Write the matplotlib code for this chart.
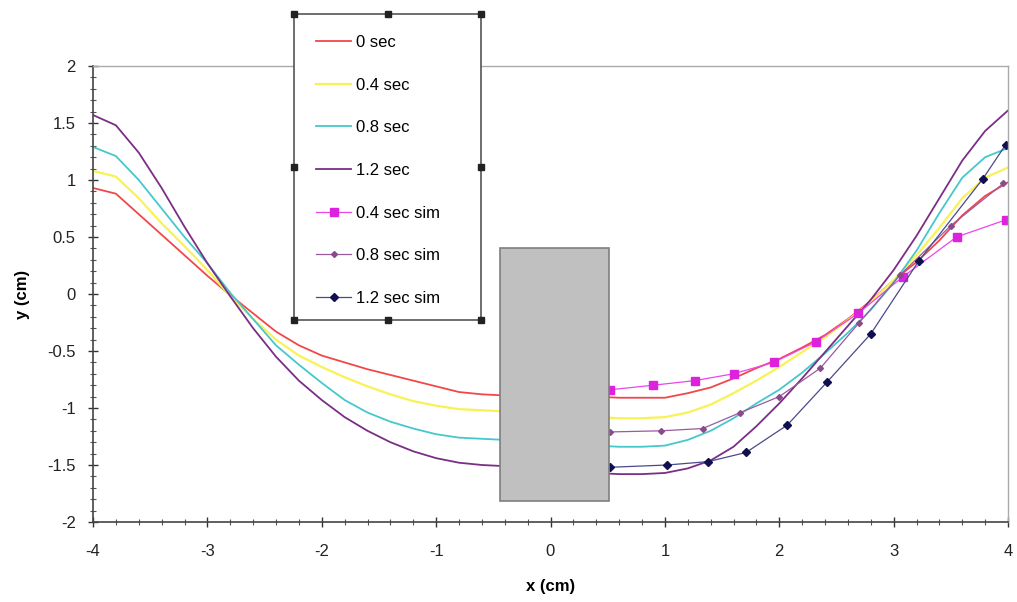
import matplotlib
matplotlib.use("Agg")
import matplotlib.pyplot as plt
from matplotlib.patches import Rectangle
from matplotlib.lines import Line2D
from matplotlib.ticker import MultipleLocator

plt.rcParams['font.family'] = ['Liberation Sans', 'DejaVu Sans']

# measured curves (x in cm)
x_meas = [-4.0, -3.8, -3.6, -3.4, -3.2, -3.0, -2.8, -2.6, -2.4, -2.2, -2.0,
          -1.8, -1.6, -1.4, -1.2, -1.0, -0.8, -0.6, -0.4, -0.2, 0.0,
          0.2, 0.4, 0.6, 0.8, 1.0, 1.2, 1.4, 1.6, 1.8, 2.0,
          2.2, 2.4, 2.6, 2.8, 3.0, 3.2, 3.4, 3.6, 3.8, 4.0]
y_0sec = [0.93, 0.88, 0.7, 0.52, 0.34, 0.16, -0.01, -0.17, -0.33, -0.45, -0.54,
          -0.6, -0.66, -0.71, -0.76, -0.81, -0.86, -0.88, -0.89, -0.89, -0.89,
          -0.9, -0.9, -0.91, -0.91, -0.91, -0.87, -0.82, -0.74, -0.65, -0.57,
          -0.47, -0.36, -0.22, -0.06, 0.12, 0.28, 0.47, 0.69, 0.86, 0.98]
y_04sec = [1.08, 1.03, 0.84, 0.62, 0.42, 0.21, -0.02, -0.22, -0.4, -0.54, -0.64,
           -0.73, -0.81, -0.88, -0.94, -0.98, -1.01, -1.02, -1.03, -1.04, -1.05,
           -1.06, -1.08, -1.09, -1.09, -1.08, -1.04, -0.97, -0.87, -0.76, -0.64,
           -0.51, -0.38, -0.23, -0.07, 0.12, 0.34, 0.58, 0.84, 1.02, 1.11]
y_08sec = [1.29, 1.21, 1.0, 0.75, 0.5, 0.27, 0.01, -0.22, -0.45, -0.62, -0.78,
           -0.93, -1.04, -1.12, -1.18, -1.23, -1.26, -1.27, -1.28, -1.29, -1.3,
           -1.31, -1.33, -1.34, -1.34, -1.33, -1.28, -1.2, -1.09, -0.96, -0.84,
           -0.69, -0.52, -0.34, -0.14, 0.1, 0.38, 0.71, 1.02, 1.2, 1.28]
y_12sec = [1.57, 1.48, 1.24, 0.93, 0.59, 0.27, -0.02, -0.3, -0.55, -0.76, -0.93,
           -1.08, -1.2, -1.3, -1.38, -1.44, -1.48, -1.5, -1.51, -1.53, -1.55,
           -1.56, -1.57, -1.58, -1.58, -1.57, -1.53, -1.46, -1.34, -1.16, -0.96,
           -0.74, -0.51, -0.28, -0.05, 0.21, 0.51, 0.84, 1.17, 1.43, 1.61]

# simulations
sim04_x = [0.52, 0.9, 1.26, 1.6, 1.95, 2.32, 2.69, 3.08, 3.55, 3.98]
sim04_y = [-0.84, -0.8, -0.76, -0.7, -0.6, -0.42, -0.17, 0.15, 0.5, 0.65]
sim08_x = [0.52, 0.97, 1.33, 1.66, 2.0, 2.36, 2.7, 3.06, 3.5, 3.96]
sim08_y = [-1.21, -1.2, -1.18, -1.04, -0.9, -0.65, -0.25, 0.17, 0.6, 0.97]
sim12_x = [0.52, 1.02, 1.38, 1.71, 2.07, 2.42, 2.8, 3.22, 3.78, 3.98]
sim12_y = [-1.52, -1.5, -1.47, -1.39, -1.15, -0.77, -0.35, 0.29, 1.01, 1.31]

labels = ['0 sec', '0.4 sec', '0.8 sec', '1.2 sec',
          '0.4 sec sim', '0.8 sec sim', '1.2 sec sim']

# obstacle block
block_x = [-0.44, 0.51]
block_y = [-1.82, 0.4]

fig = plt.figure(figsize=(10.17, 6.02), dpi=100)
ax = fig.add_axes([93/1017, 1 - 522/602, (1008-93)/1017, (522-66)/602])

h = []
h += ax.plot(x_meas, y_0sec, color='#f0484a', lw=1.3, label=labels[0])
h += ax.plot(x_meas, y_04sec, color='#f8f254', lw=1.6, label=labels[1])
h += ax.plot(x_meas, y_08sec, color='#45c8cc', lw=1.3, label=labels[2])
h += ax.plot(x_meas, y_12sec, color='#7a2e86', lw=1.3, label=labels[3])
h += ax.plot(sim04_x, sim04_y, color='#ee44ee', lw=0.9, marker='s', ms=5.5,
             mec='#dd22dd', mfc='#dd22dd', label=labels[4])
h += ax.plot(sim08_x, sim08_y, color='#9a5a9e', lw=0.9, marker='D', ms=3,
             mec='#8a4a8e', mfc='#8a4a8e', label=labels[5])
h += ax.plot(sim12_x, sim12_y, color='#4a4a8a', lw=0.9, marker='D', ms=4.5,
             mec='#101050', mfc='#101050', label=labels[6])

ax.add_patch(Rectangle((block_x[0], block_y[0]), block_x[1] - block_x[0],
                       block_y[1] - block_y[0], facecolor='#c0c0c0',
                       edgecolor='#7f7f7f', lw=1.2, zorder=5))

ax.set_xlim(-4, 4)
ax.set_ylim(-2, 2)
ax.xaxis.set_major_locator(MultipleLocator(1))
ax.xaxis.set_minor_locator(MultipleLocator(0.2))
ax.yaxis.set_major_locator(MultipleLocator(0.5))
ax.yaxis.set_minor_locator(MultipleLocator(0.1))
ax.yaxis.set_major_formatter(plt.FuncFormatter(lambda v, p: ('%g' % v)))
ax.xaxis.set_major_formatter(plt.FuncFormatter(lambda v, p: ('%g' % v)))
ax.tick_params(axis='x', which='major', pad=12)
ax.tick_params(axis='y', which='major', pad=9)
ax.tick_params(axis='both', which='major', direction='inout', length=7,
               width=1, labelsize=12, colors='#333333')
ax.tick_params(axis='both', which='minor', direction='inout', length=4,
               width=0.8, colors='#555555')
ax.tick_params(labelcolor='#222222')
for s in ['left', 'bottom']:
    ax.spines[s].set_color('#444444')
    ax.spines[s].set_linewidth(1.2)
for s in ['top', 'right']:
    ax.spines[s].set_color('#aaaaaa')
    ax.spines[s].set_linewidth(1.0)

ax.set_xlabel('x (cm)', fontsize=12, fontweight='bold', labelpad=15)
ax.set_ylabel('y (cm)', fontsize=12, fontweight='bold', labelpad=12)

# legend box (figure pixel coords)
W, H = 1017, 602
bx0, bx1, by0, by1 = 294, 481, 14, 320
fig.patches.append(Rectangle((bx0/W, 1 - by1/H), (bx1-bx0)/W, (by1-by0)/H,
                             transform=fig.transFigure, facecolor='white',
                             edgecolor='#555555', lw=1.2, zorder=10))
leg = fig.legend(handles=h, labels=labels, loc='upper left',
                 bbox_to_anchor=(316/W, 1 - 35/H), frameon=False,
                 fontsize=12, labelspacing=1.66, handlelength=2.1,
                 handletextpad=0.3, borderaxespad=0, borderpad=0)
leg.set_zorder(11)
hx = [bx0, (bx0+bx1)/2, bx1, bx0, bx1, bx0, (bx0+bx1)/2, bx1]
hy = [by0, by0, by0, (by0+by1)/2, (by0+by1)/2, by1, by1, by1]
fig.lines.append(Line2D([v/W for v in hx], [1 - v/H for v in hy],
                        transform=fig.transFigure, ls='none', marker='s',
                        ms=4, color='#222222', zorder=12))

fig.savefig('out.png', dpi=100)
